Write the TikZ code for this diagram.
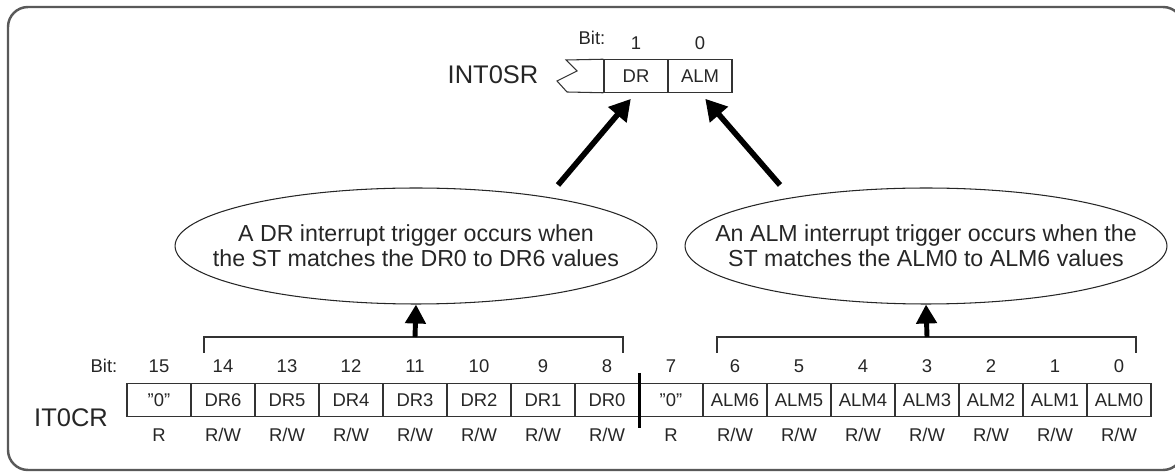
\documentclass[tikz,border=0pt]{standalone}
\usepackage{fontspec}
\setmainfont{Liberation Sans}
\usetikzlibrary{arrows.meta,shapes.geometric}

\tikzset{
  lbl/.style={font=\fontsize{10.5}{12}\selectfont, text=black!85, inner sep=0pt},
  cell/.style={draw=black!80, line width=0.6pt, minimum width=1.28cm, minimum height=0.65cm,
    inner sep=0pt, font=\fontsize{10.5}{12}\selectfont, text=black!85},
  regname/.style={font=\fontsize{14.5}{16}\selectfont, text=black!85, inner sep=0pt},
  note/.style={ellipse, draw=black!85, line width=0.6pt, minimum width=9.64cm, minimum height=2.32cm,
    inner xsep=-3cm, inner ysep=-1.5cm,
    align=center, font=\fontsize{13.2}{14.4}\selectfont, text=black!85},
  toparrow/.style={line width=3.2pt, -{Triangle[width=0.46cm,length=0.42cm]}},
  uparrow/.style={line width=2.8pt, -{Triangle[width=0.4cm,length=0.38cm]}},
  brk/.style={line width=0.8pt, draw=black!80},
  frame/.style={line width=1.4pt, draw=black!65, rounded corners=0.4cm}
}

\begin{document}
\begin{tikzpicture}[x=0.02cm,y=-0.02cm]
    \useasboundingbox (0,0) rectangle (1175,472);
    \draw[frame] (8,7) rectangle (1183,470);

    % INT0SR
    \node[regname] (intsr) at (493,75) {INT0SR};
    \node[lbl] (srbit) at (592,38) {Bit:};
    \node[cell] (drb) at (636,76) {DR};
    \node[cell] (almb) at (700,76) {ALM};
    \node[lbl] (sr1) at (636,43) {1};
    \node[lbl] (sr0) at (700,43) {0};
    \draw[draw=black!80, line width=0.6pt] (drb.north west) -- (566,60) -- (577,71) -- (557,81) -- (567,92) -- (drb.south west);

    % IT0CR
    \node[regname] (itcr) at (71,418) {IT0CR};
    \node[lbl] (crbit) at (104,366) {Bit:};
    \foreach \b/\nm/\acc in {15/{"0"}/R, 14/DR6/{R/W}, 13/DR5/{R/W}, 12/DR4/{R/W},
        11/DR3/{R/W}, 10/DR2/{R/W}, 9/DR1/{R/W}, 8/DR0/{R/W},
        7/{"0"}/R, 6/ALM6/{R/W}, 5/ALM5/{R/W}, 4/ALM4/{R/W},
        3/ALM3/{R/W}, 2/ALM2/{R/W}, 1/ALM1/{R/W}, 0/ALM0/{R/W}} {
        \node[cell] (c\b) at ({1119-64*\b},400) {\nm};
        \node[lbl] (n\b) at ({1119-64*\b},366) {\b};
        \node[lbl] (a\b) at ({1119-64*\b},435) {\acc};
    }
    \draw[line width=1.5pt] (c8.north east |- n8.south) -- (c8.south east |- a8.north);

    % brackets
    \draw[brk] (204,353) -- (204,337) -- (623,337) -- (623,353);
    \draw[brk] (717,353) -- (717,337) -- (1136,337) -- (1136,353);
    \coordinate (brkL) at (415,337);
    \coordinate (brkR) at (927,337);

    % notes
    \node[note] (evL) at (416,246) {A DR interrupt trigger occurs when\\the ST matches the DR0 to DR6 values};
    \node[note] (evR) at (926,246) {An ALM interrupt trigger occurs when the\\ST matches the ALM0 to ALM6 values};
    \draw[uparrow] (brkL) -- (evL.south);
    \draw[uparrow] (brkR) -- (evR.south);

    \coordinate (tailL) at (558,185);
    \coordinate (tailR) at (780,185);
    \draw[toparrow, shorten >=0.16cm] (tailL) -- (drb.south);
    \draw[toparrow, shorten >=0.16cm] (tailR) -- (almb.south);
\end{tikzpicture}
\end{document}
